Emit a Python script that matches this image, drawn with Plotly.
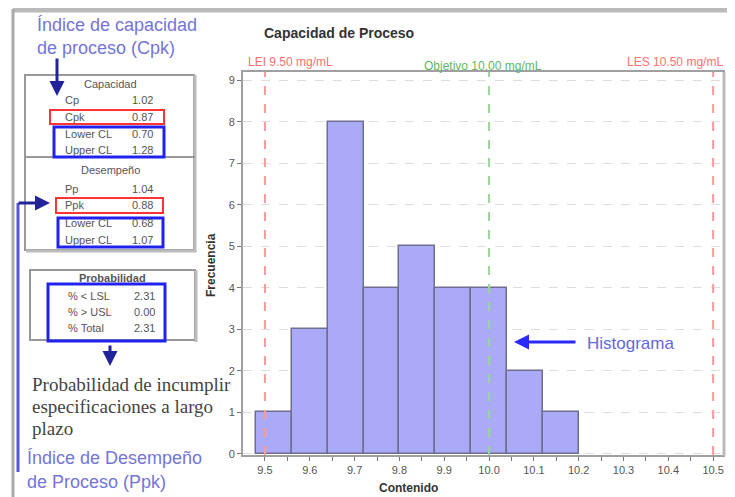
import plotly.graph_objects as go

# ---- data ----
bin_edges = [9.48, 9.56, 9.64, 9.72, 9.80, 9.88, 9.96, 10.04, 10.12, 10.20]
counts = [1, 3, 8, 4, 5, 4, 4, 2, 1]
spec_lei = 9.50
spec_obj = 10.00
spec_les = 10.50
x_ticks = [9.5, 9.6, 9.7, 9.8, 9.9, 10.0, 10.1, 10.2, 10.3, 10.4, 10.5]
y_ticks = [0, 1, 2, 3, 4, 5, 6, 7, 8, 9]

cap_labels = ["Cp", "Cpk", "Lower CL", "Upper CL"]
cap_values = ["1.02", "0.87", "0.70", "1.28"]
des_labels = ["Pp", "Ppk", "Lower CL", "Upper CL"]
des_values = ["1.04", "0.88", "0.68", "1.07"]
prob_labels = ["% < LSL", "% > USL", "% Total"]
prob_values = ["2.31", "0.00", "2.31"]

centers = [(a + b) / 2 for a, b in zip(bin_edges[:-1], bin_edges[1:])]
widths = [b - a for a, b in zip(bin_edges[:-1], bin_edges[1:])]

W, H = 735, 497
OFF = 8  # page body margin
L, R, T, B = 235, 20, 64, 50
PW, PH = W - L - R, H - T - B


def px(x):
    return (x - OFF - L) / PW


def py(y):
    return (H - B - (y - OFF)) / PH


fig = go.Figure()
fig.add_trace(go.Bar(
    x=centers, y=counts, width=widths,
    marker=dict(color="#aaaaf7", line=dict(color="#6e6e90", width=1.5)),
    hoverinfo="x+y",
))

shapes = []
annotations = []

# spec lines
for xv, col in [(spec_lei, "#ff9a9a"), (spec_obj, "#9ad69a"), (spec_les, "#ff9a9a")]:
    shapes.append(dict(type="line", xref="x", yref="paper", x0=xv, x1=xv, y0=0, y1=1,
                       line=dict(color=col, width=2, dash="dash")))

lab_font = "Liberation Sans"
annotations += [
    dict(text="LEI 9.50 mg/mL", x=px(246), y=py(62), xanchor="left", yanchor="middle",
         font=dict(color="#ff7070", size=12, family=lab_font)),
    dict(text="Objetivo 10.00 mg/mL", x=px(483), y=py(66), xanchor="center", yanchor="middle",
         font=dict(color="#5fb85f", size=12, family=lab_font)),
    dict(text="LES 10.50 mg/mL", x=px(725), y=py(62), xanchor="right", yanchor="middle",
         font=dict(color="#ff7070", size=12, family=lab_font)),
    dict(text="<b>Capacidad de Proceso</b>", x=px(262), y=py(33), xanchor="left", yanchor="middle",
         font=dict(color="#333333", size=14, family=lab_font)),
    dict(text="<b>Frecuencia</b>", x=px(211), y=py(265), xanchor="center", yanchor="middle",
         textangle=-90, font=dict(color="#333333", size=12, family=lab_font)),
    dict(text="<b>Contenido</b>", x=px(408), y=py(488), xanchor="center", yanchor="middle",
         font=dict(color="#333333", size=12, family=lab_font)),
]

# outer frame
shapes.append(dict(type="line", xref="paper", yref="paper", x0=px(13), x1=px(745), y0=py(10), y1=py(10),
                   line=dict(color="#bbbbbb", width=5)))
shapes.append(dict(type="line", xref="paper", yref="paper", x0=px(13), x1=px(13), y0=py(9), y1=py(510),
                   line=dict(color="#aaaaaa", width=3)))

# plot frame shadow
shapes.append(dict(type="line", xref="paper", yref="paper", x0=px(724), x1=px(724), y0=py(72), y1=py(456),
                   line=dict(color="#bbbbbb", width=3)))


def rect(x0, y0, x1, y1, color, width):
    shapes.append(dict(type="rect", xref="paper", yref="paper", x0=px(x0), x1=px(x1), y0=py(y0), y1=py(y1),
                       line=dict(color=color, width=width)))


def hline(x0, x1, y, color, width):
    shapes.append(dict(type="line", xref="paper", yref="paper", x0=px(x0), x1=px(x1), y0=py(y), y1=py(y),
                       line=dict(color=color, width=width)))


def vline(x, y0, y1, color, width):
    shapes.append(dict(type="line", xref="paper", yref="paper", x0=px(x), x1=px(x), y0=py(y0), y1=py(y1),
                       line=dict(color=color, width=width)))


def txt(s, x, y, anchor="left", size=11, color="#555555", family=lab_font):
    annotations.append(dict(text=s, x=px(x), y=py(y), xanchor=anchor, yanchor="middle",
                            font=dict(size=size, color=color, family=family)))


# Capacidad / Desempeño box
rect(25, 75, 194, 250, "#999999", 2)
vline(195, 75, 252, "#bbbbbb", 3)
hline(26, 196, 251, "#bbbbbb", 3)
hline(25, 195, 157, "#999999", 2)
txt("Capacidad", 110, 84, "center")
for i, (l, v) in enumerate(zip(cap_labels, cap_values)):
    yy = [100, 117, 134, 150][i]
    txt(l, 63, yy)
    txt(v, 130, yy)
rect(50, 110, 164, 124, "#ff3333", 2)
rect(54, 127, 164, 157, "#2222ee", 3)

txt("Desempeño", 110, 170, "center")
for i, (l, v) in enumerate(zip(des_labels, des_values)):
    yy = [189, 205, 223, 240][i]
    txt(l, 63, yy)
    txt(v, 130, yy)
rect(56, 198, 163, 213, "#ff3333", 2)
rect(58, 218, 163, 247, "#2222ee", 3)

# Probabilidad box
rect(30, 270, 195, 340, "#999999", 2)
vline(196, 270, 342, "#bbbbbb", 3)
txt("<b>Probabilidad</b>", 112, 278, "center")
for i, (l, v) in enumerate(zip(prob_labels, prob_values)):
    yy = [296, 312, 328][i]
    txt(l, 66, yy)
    txt(v, 132, yy)
rect(48, 284, 165, 341, "#2222ee", 3)

# Callout texts
callout_font = "Liberation Sans"
txt("Índice de capacidad", 35, 25, size=18, color="#7474d8", family=callout_font)
txt("de proceso (Cpk)", 35, 48, size=18, color="#7474d8", family=callout_font)
txt("Índice de Desempeño", 25, 458, size=18, color="#7474d8", family=callout_font)
txt("de Proceso (Ppk)", 25, 482, size=18, color="#7474d8", family=callout_font)
txt("Probabilidad de incumplir", 30, 384, size=19, color="#444444", family="Liberation Serif")
txt("especificaciones a largo", 30, 406, size=19, color="#444444", family="Liberation Serif")
txt("plazo", 30, 428, size=19, color="#444444", family="Liberation Serif")
txt("Histograma", 585, 343, size=17, color="#6666dd", family=callout_font)

# arrows and connector
vline(18, 203, 472, "#5555dd", 3)


def arrow(xh, yh, xt, yt, color, width=3):
    annotations.append(dict(text="", x=px(xh), y=py(yh), xref="paper", yref="paper",
                            ax=xt - xh, ay=yt - yh, showarrow=True, arrowhead=2,
                            arrowsize=1, arrowwidth=width, arrowcolor=color))


arrow(57, 96, 57, 57, "#22229a")
arrow(50, 203, 17, 203, "#22229a")
arrow(110, 366, 110, 344, "#22229a")
arrow(514, 342, 577, 342, "#2a2aff")

for a in annotations:
    a.setdefault("xref", "paper")
    a.setdefault("yref", "paper")
    a.setdefault("showarrow", False)

fig.update_layout(
    width=W, height=H,
    margin=dict(l=L, r=R, t=T, b=B),
    paper_bgcolor="white", plot_bgcolor="white",
    showlegend=False,
    bargap=0,
    shapes=shapes,
    annotations=annotations,
    xaxis=dict(range=[9.451, 10.522], tickvals=x_ticks, ticktext=[f"{v:.1f}" for v in x_ticks],
               ticks="outside", ticklen=4, tickcolor="#777777",
               minor=dict(dtick=0.05, tick0=9.5, ticks="outside", ticklen=4, tickcolor="#777777", showgrid=False),
               showgrid=False, zeroline=False,
               showline=True, mirror=True, linecolor="#a0a0a0", linewidth=2,
               tickfont=dict(size=11, color="#555555", family=lab_font)),
    yaxis=dict(range=[-0.03, 9.2], tickvals=y_ticks, ticks="outside", ticklen=4, tickcolor="#777777",
               showgrid=True, gridcolor="#dddddd", griddash="dash", gridwidth=1, zeroline=False,
               showline=True, mirror=True, linecolor="#a0a0a0", linewidth=2,
               tickfont=dict(size=11, color="#555555", family=lab_font)),
)

fig.write_html("out.html")
